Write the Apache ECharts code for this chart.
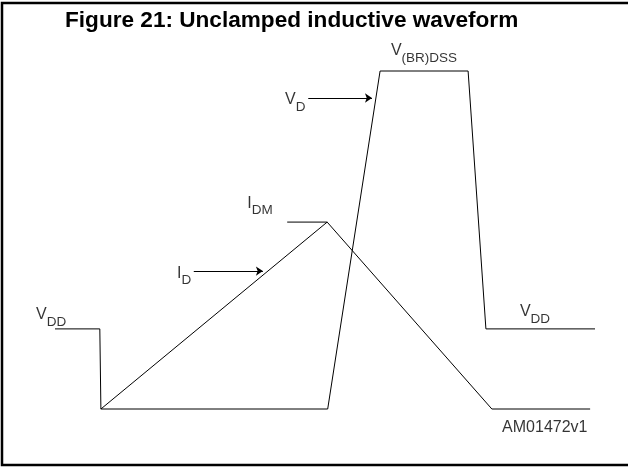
<!DOCTYPE html>
<html>
<head>
<meta charset="utf-8">
<script src="https://cdn.jsdelivr.net/npm/echarts@6/dist/echarts.min.js"></script>
<style>
  html, body { margin: 0; padding: 0; background: #fff; }
  #chart { width: 628px; height: 473px; }
</style>
</head>
<body>
<div id="chart"></div>
<script>
// time axis 0-100, amplitude 0-100 (bottom line = 0, V(BR)DSS = 100)
const vdWave = [[0, 23.7], [8.3, 23.7], [8.5, 0], [50.5, 0], [60.2, 100], [76.5, 100], [79.8, 23.7], [100, 23.7]];
const idWave = [[8.5, 0], [50.4, 55.3], [80.9, 0], [99.1, 0]];
const idmTick = [[43, 55.3], [50.4, 55.3]];
// arrows pointing at the traces
const arrowLines = [
  [[46.9, 92], [58.7, 92]],
  [[25.7, 40.8], [38.5, 40.8]]
];
// labels: main letter + subscript
const labelMain = ['V', 'V', 'I', 'I', 'V', 'V'];
const labelSub = ['(BR)DSS', 'D', 'DM', 'D', 'DD', 'DD'];
const labelPos = [[62.2, 106.1], [42.6, 91.4], [35.6, 60.9], [22.6, 40.2], [-3.5, 28], [86.1, 28.9]];
const footNote = { text: 'AM01472v1', pos: [82.8, -5.6] };

const FONT = '"Liberation Sans", Arial, sans-serif';

const chart = echarts.init(document.getElementById('chart'), null, { renderer: 'canvas' });

const labelData = labelPos.map((p, i) => ({
  value: p,
  name: '{m|' + labelMain[i] + '}{s|' + labelSub[i] + '}'
}));

chart.setOption({
  animation: false,
  backgroundColor: '#fff',
  title: {
    text: 'Figure 21: Unclamped inductive waveform',
    left: 60,
    top: 4,
    textStyle: { fontFamily: FONT, fontWeight: 'bold', fontSize: 22.6, color: '#000' }
  },
  graphic: [{
    type: 'rect',
    shape: { x: 2, y: 3, width: 700, height: 462 },
    style: { fill: 'none', stroke: '#000', lineWidth: 2.5 },
    silent: true
  }],
  grid: { left: 55, right: 33, top: 71, bottom: 64 },
  xAxis: { type: 'value', min: 0, max: 100, show: false },
  yAxis: { type: 'value', min: 0, max: 100, show: false },
  series: [
    {
      type: 'line', data: vdWave, symbol: 'none', clip: false,
      lineStyle: { color: '#000', width: 1 }
    },
    {
      type: 'line', data: idWave, symbol: 'none', clip: false,
      lineStyle: { color: '#000', width: 1 }
    },
    {
      type: 'line', data: idmTick, symbol: 'none', clip: false,
      lineStyle: { color: '#000', width: 1 }
    },
    {
      type: 'lines', coordinateSystem: 'cartesian2d', clip: false,
      symbol: ['none', 'arrow'], symbolSize: [4, 7],
      lineStyle: { color: '#000', width: 1, opacity: 1 },
      data: arrowLines.map(c => ({ coords: c }))
    },
    {
      type: 'scatter', data: labelData, symbolSize: 0, clip: false,
      label: {
        show: true, position: 'right', distance: 0,
        formatter: p => p.name,
        rich: {
          m: { fontFamily: FONT, fontSize: 16, color: '#000' },
          s: { fontFamily: FONT, fontSize: 13.5, color: '#000', padding: [15, 0, 0, 0] }
        }
      }
    },
    {
      type: 'scatter', data: [{ value: footNote.pos, name: footNote.text }], symbolSize: 0, clip: false,
      label: {
        show: true, position: 'right', distance: 0,
        formatter: p => p.name,
        fontFamily: FONT, fontSize: 16, color: '#000'
      }
    }
  ]
});
</script>
</body>
</html>
